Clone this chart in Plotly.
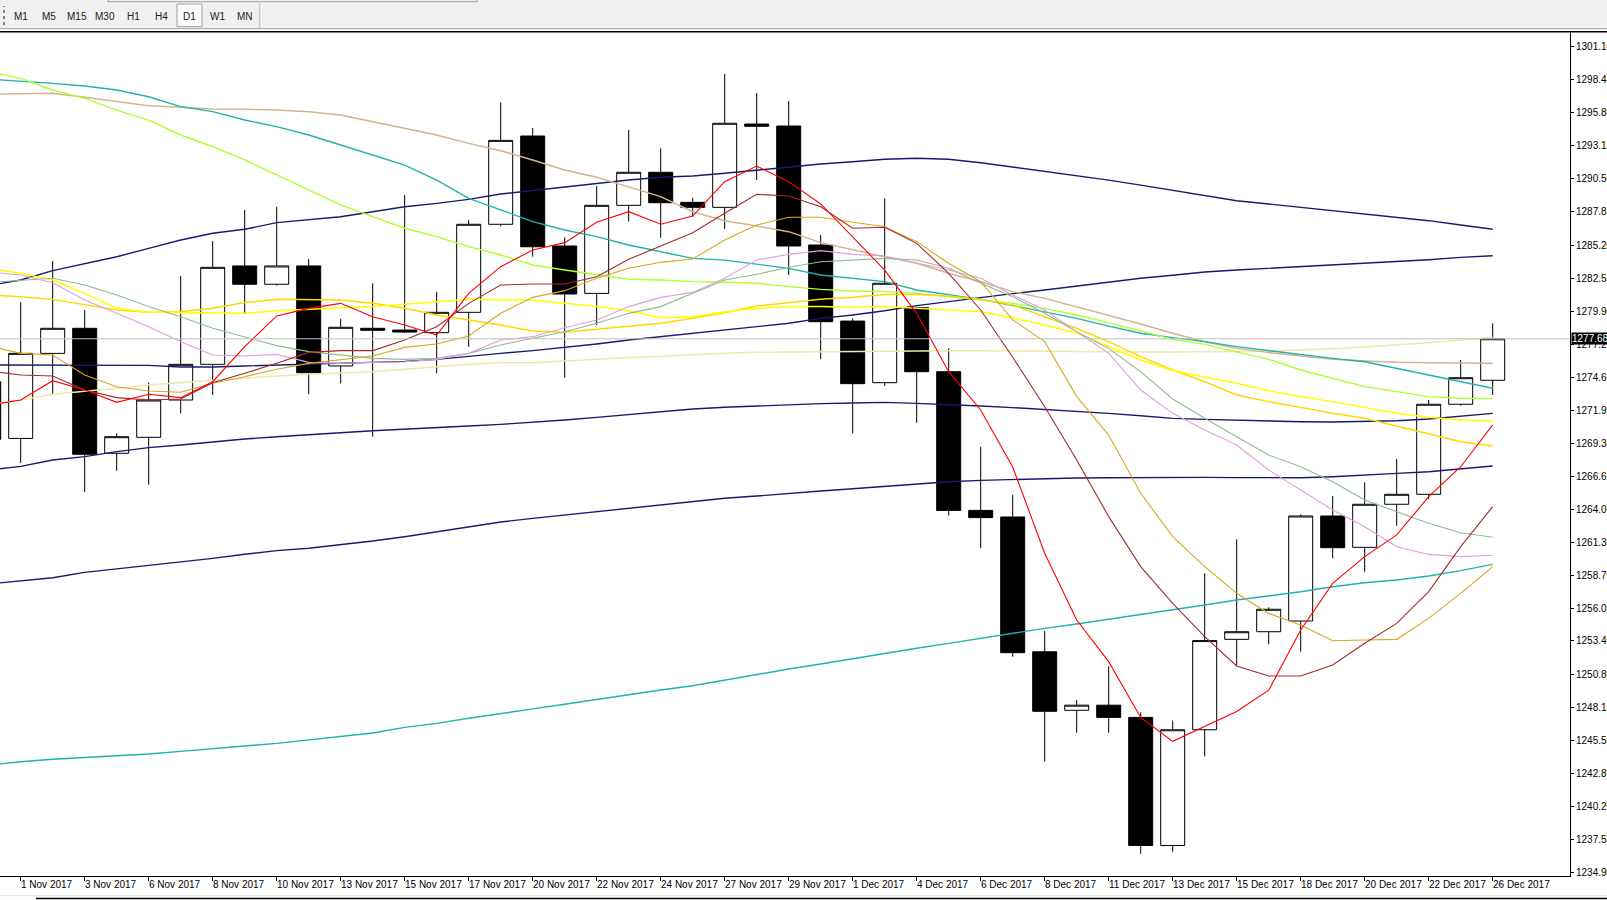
import plotly.graph_objects as go

# D1 bars, index 0 = 1 Nov 2017 ... 46 = 26 Dec 2017 (broker has Sunday bars), -1 = 31 Oct
bars = list(range(-1, 47))

opens = [1274.24, 1269.69, 1276.51, 1278.52, 1268.50, 1269.78, 1272.77, 1275.63, 1283.52, 1282.05,
         1283.52, 1275.50, 1278.52, 1278.38, 1278.17, 1279.80, 1286.86, 1293.94, 1285.12, 1281.32,
         1288.38, 1291.03, 1288.62, 1288.22, 1294.90, 1294.74, 1285.20, 1279.10, 1274.16, 1280.17,
         1275.04, 1263.92, 1263.39, 1252.58, 1247.89, 1248.30, 1247.32, 1237.05, 1246.33, 1253.58,
         1254.19, 1255.05, 1263.47, 1260.96, 1264.41, 1265.21, 1272.43, 1274.35]
highs = [1275.10, 1280.62, 1283.92, 1279.99, 1270.10, 1274.16, 1282.71, 1285.52, 1288.01, 1288.25,
         1284.08, 1279.27, 1282.13, 1289.21, 1281.45, 1287.20, 1296.64, 1294.58, 1285.82, 1289.93,
         1294.42, 1292.95, 1288.99, 1298.91, 1297.39, 1296.75, 1286.00, 1279.32, 1288.94, 1280.25,
         1276.92, 1269.01, 1265.15, 1254.25, 1248.71, 1251.43, 1247.73, 1247.07, 1258.87, 1261.60,
         1256.15, 1263.60, 1265.07, 1266.17, 1268.04, 1272.77, 1275.98, 1278.92]
lows = [1268.60, 1267.71, 1273.23, 1265.40, 1267.10, 1265.97, 1271.70, 1273.17, 1279.72, 1281.95,
        1273.23, 1274.11, 1269.83, 1278.15, 1274.91, 1277.04, 1286.70, 1284.26, 1274.56, 1278.78,
        1287.07, 1285.78, 1287.47, 1286.48, 1290.41, 1282.79, 1276.06, 1270.10, 1273.89, 1270.95,
        1263.51, 1260.88, 1252.19, 1243.78, 1246.08, 1246.08, 1236.39, 1236.55, 1244.19, 1251.52,
        1253.18, 1252.59, 1260.08, 1259.00, 1262.69, 1264.81, 1272.31, 1273.17]
closes = [1269.62, 1276.51, 1278.52, 1268.42, 1269.83, 1272.77, 1275.63, 1283.41, 1282.05, 1283.52,
          1274.96, 1278.60, 1278.36, 1278.22, 1279.80, 1286.86, 1293.59, 1285.06, 1281.27, 1288.38,
          1291.03, 1288.59, 1288.22, 1294.96, 1294.72, 1285.12, 1279.05, 1274.08, 1282.13, 1275.04,
          1263.92, 1263.34, 1252.51, 1247.81, 1248.30, 1247.32, 1237.05, 1246.33, 1253.48, 1254.19,
          1255.99, 1263.47, 1260.93, 1264.41, 1265.21, 1272.43, 1274.56, 1277.68]

# moving averages
ma_red = [1272.35, 1272.77, 1274.32, 1273.57, 1272.58, 1273.23, 1272.96, 1274.24, 1277.05, 1279.51,
          1280.12, 1280.52, 1279.45, 1278.78, 1277.98, 1281.32, 1283.46, 1284.80, 1285.39, 1287.02,
          1287.87, 1286.86, 1287.52, 1290.28, 1291.53, 1290.28, 1288.49, 1285.87, 1283.19, 1279.72,
          1275.04, 1271.97, 1267.40, 1260.48, 1255.13, 1251.79, 1247.32, 1245.40, 1246.60, 1247.80,
          1249.50, 1254.33, 1258.07, 1260.21, 1261.95, 1265.02, 1267.42, 1270.77]
ma_brown = [1275.10, 1274.78, 1274.69, 1273.57, 1272.96, 1272.77, 1272.85, 1274.16, 1274.91, 1275.71,
            1276.59, 1276.73, 1276.73, 1277.58, 1278.65, 1280.52, 1281.99, 1282.07, 1282.07, 1282.66,
            1284.05, 1285.12, 1286.19, 1287.74, 1289.26, 1289.13, 1288.27, 1286.54, 1286.62, 1285.33,
            1282.93, 1279.99, 1276.20, 1272.23, 1267.96, 1263.42, 1259.41, 1256.47, 1253.79, 1251.44,
            1250.64, 1250.64, 1251.52, 1253.26, 1254.86, 1257.40, 1261.01, 1264.22]
ma_goldenrod = [1277.10, 1276.51, 1276.38, 1274.78, 1273.84, 1273.49, 1273.39, 1274.11, 1274.64, 1275.23,
                1275.71, 1275.98, 1276.30, 1276.99, 1277.26, 1277.90, 1279.72, 1281.00, 1281.54, 1282.53,
                1283.33, 1283.81, 1284.08, 1285.60, 1286.80, 1287.42, 1287.42, 1287.02, 1286.67, 1285.47,
                1283.73, 1282.26, 1279.20, 1277.45, 1273.04, 1269.96, 1265.29, 1261.81, 1259.41, 1257.27,
                1255.66, 1254.73, 1253.47, 1253.53, 1253.58, 1255.26, 1257.27, 1259.41]
ma_plum = [1283.05, 1282.79, 1282.18, 1280.79, 1279.72, 1278.65, 1277.45, 1276.38, 1276.30, 1276.43,
           1275.79, 1275.71, 1275.79, 1275.84, 1276.03, 1276.51, 1277.58, 1277.85, 1278.57, 1279.19,
           1280.26, 1281.00, 1281.40, 1282.53, 1284.00, 1284.45, 1284.75, 1284.45, 1284.32, 1283.73,
           1283.19, 1282.53, 1281.19, 1279.99, 1278.25, 1276.51, 1273.57, 1271.70, 1270.37, 1269.16,
           1267.16, 1265.55, 1263.95, 1262.61, 1261.01, 1260.39, 1260.21, 1260.32]
ma_seagreen = [1282.20, 1282.34, 1282.53, 1281.99, 1281.19, 1280.26, 1279.45, 1278.52, 1277.85, 1277.13,
               1276.65, 1276.38, 1276.11, 1276.03, 1276.11, 1276.51, 1277.18, 1277.72, 1278.25, 1278.92,
               1279.72, 1280.26, 1281.32, 1282.39, 1282.85, 1283.41, 1283.86, 1284.00, 1284.13, 1284.00,
               1283.33, 1282.13, 1281.06, 1279.72, 1278.25, 1276.91, 1275.04, 1272.85, 1271.30, 1269.83,
               1268.36, 1267.42, 1266.22, 1264.75, 1263.82, 1262.88, 1262.13, 1261.76]
ma_yellow = [1283.30, 1282.93, 1282.39, 1281.32, 1280.12, 1279.80, 1279.77, 1279.72, 1279.72, 1279.93,
             1280.04, 1280.15, 1280.26, 1280.44, 1280.66, 1280.84, 1280.79, 1280.79, 1280.52, 1280.26,
             1279.93, 1279.37, 1279.45, 1279.85, 1280.12, 1280.26, 1280.26, 1280.20, 1280.26, 1280.12,
             1279.99, 1279.85, 1279.37, 1278.78, 1278.12, 1277.05, 1275.98, 1275.12, 1274.64, 1274.11,
             1273.52, 1273.04, 1272.64, 1272.18, 1271.70, 1271.38, 1271.17, 1271.09]
ma_gold = [1281.20, 1281.06, 1280.84, 1280.39, 1279.99, 1279.80, 1279.85, 1280.12, 1280.58, 1280.84,
           1280.84, 1280.79, 1280.52, 1280.12, 1279.59, 1279.19, 1278.78, 1278.30, 1278.20, 1278.44,
           1278.65, 1278.92, 1279.32, 1279.77, 1280.31, 1280.58, 1280.84, 1281.00, 1281.24, 1281.24,
           1281.11, 1280.84, 1280.39, 1279.45, 1278.52, 1277.45, 1276.25, 1275.18, 1274.24, 1273.17,
           1272.64, 1272.18, 1271.70, 1271.30, 1270.69, 1270.10, 1269.43, 1269.08]
ma_greenyellow = [1299.10, 1298.56, 1297.63, 1296.96, 1296.02, 1295.22, 1294.02, 1293.08, 1292.02, 1290.81,
                  1289.61, 1288.41, 1287.47, 1286.54, 1285.87, 1285.07, 1284.40, 1283.60, 1283.19, 1282.79,
                  1282.45, 1282.39, 1282.26, 1282.21, 1282.13, 1281.86, 1281.64, 1281.51, 1281.46, 1281.32,
                  1281.06, 1280.84, 1280.52, 1280.12, 1279.59, 1278.97, 1278.30, 1277.63, 1277.23, 1276.65,
                  1276.03, 1275.18, 1274.51, 1273.84, 1273.44, 1273.04, 1272.91, 1272.88]
ma_teal = [1298.50, 1298.35, 1298.16, 1297.95, 1297.63, 1297.09, 1296.29, 1295.89, 1295.22, 1294.69,
           1294.02, 1293.22, 1292.42, 1291.61, 1290.41, 1288.94, 1288.01, 1287.07, 1286.40, 1285.87,
           1285.20, 1284.66, 1284.13, 1283.99, 1283.68, 1283.33, 1282.79, 1282.53, 1282.26, 1281.59,
           1281.19, 1280.84, 1280.35, 1279.85, 1279.32, 1278.70, 1278.12, 1277.77, 1277.45, 1277.05,
           1276.73, 1276.46, 1276.11, 1275.84, 1275.31, 1274.77, 1274.24, 1273.71]
ma_tan = [1297.30, 1297.36, 1297.36, 1297.04, 1296.69, 1296.37, 1296.24, 1296.10, 1296.08, 1296.02,
          1295.89, 1295.62, 1295.09, 1294.55, 1294.02, 1293.35, 1292.76, 1292.02, 1291.21, 1290.63,
          1289.88, 1289.08, 1287.87, 1287.15, 1286.72, 1286.27, 1285.39, 1284.80, 1284.26, 1283.73,
          1282.93, 1282.26, 1281.46, 1280.92, 1280.25, 1279.59, 1278.86, 1278.12, 1277.45, 1276.91,
          1276.57, 1276.30, 1276.03, 1275.90, 1275.79, 1275.76, 1275.74, 1275.71]
ma_pale = [1272.40, 1272.77, 1273.23, 1273.44, 1273.71, 1273.97, 1274.16, 1274.29, 1274.51, 1274.70,
           1274.83, 1274.91, 1275.04, 1275.23, 1275.44, 1275.63, 1275.76, 1275.76, 1275.90, 1276.06,
           1276.17, 1276.27, 1276.41, 1276.51, 1276.59, 1276.62, 1276.62, 1276.62, 1276.68, 1276.70,
           1276.73, 1276.73, 1276.70, 1276.65, 1276.63, 1276.62, 1276.62, 1276.62, 1276.62, 1276.65,
           1276.70, 1276.78, 1276.89, 1277.02, 1277.18, 1277.37, 1277.58, 1277.80]
ma_navy1 = [1281.95, 1282.39, 1283.14, 1283.73, 1284.26, 1284.93, 1285.60, 1286.14, 1286.46, 1286.99,
            1287.20, 1287.47, 1287.87, 1288.27, 1288.54, 1288.86, 1289.29, 1289.56, 1289.88, 1290.14,
            1290.41, 1290.63, 1290.73, 1290.95, 1291.21, 1291.48, 1291.69, 1291.88, 1292.07, 1292.15,
            1292.07, 1291.80, 1291.45, 1291.10, 1290.80, 1290.40, 1290.00, 1289.60, 1289.20, 1288.75,
            1288.49, 1288.22, 1287.95, 1287.68, 1287.42, 1287.15, 1286.80, 1286.46]
ma_navy2 = [1275.58, 1275.58, 1275.58, 1275.58, 1275.58, 1275.55, 1275.42, 1275.42, 1275.50, 1275.58,
            1275.63, 1275.71, 1275.76, 1275.87, 1276.03, 1276.30, 1276.51, 1276.73, 1276.99, 1277.26,
            1277.58, 1277.85, 1278.12, 1278.38, 1278.65, 1278.92, 1279.32, 1279.59, 1279.93, 1280.34,
            1280.66, 1281.00, 1281.30, 1281.59, 1281.91, 1282.26, 1282.53, 1282.77, 1283.03, 1283.19,
            1283.33, 1283.46, 1283.60, 1283.73, 1283.89, 1284.02, 1284.21, 1284.34]
ma_navy3 = [1267.15, 1267.45, 1267.96, 1268.23, 1268.63, 1268.95, 1269.16, 1269.43, 1269.64, 1269.83,
            1270.02, 1270.15, 1270.31, 1270.42, 1270.55, 1270.69, 1270.82, 1270.98, 1271.17, 1271.38,
            1271.62, 1271.84, 1272.05, 1272.19, 1272.29, 1272.40, 1272.48, 1272.53, 1272.58, 1272.50,
            1272.42, 1272.29, 1272.16, 1272.02, 1271.83, 1271.70, 1271.51, 1271.30, 1271.22, 1271.14,
            1271.09, 1271.03, 1271.01, 1271.03, 1271.11, 1271.25, 1271.49, 1271.70]
ma_navy4 = [1258.02, 1258.28, 1258.52, 1258.95, 1259.22, 1259.49, 1259.75, 1260.07, 1260.40, 1260.69,
            1260.88, 1261.14, 1261.46, 1261.81, 1262.21, 1262.61, 1262.99, 1263.28, 1263.55, 1263.84,
            1264.08, 1264.40, 1264.67, 1264.89, 1265.07, 1265.29, 1265.47, 1265.66, 1265.85, 1266.06,
            1266.22, 1266.33, 1266.40, 1266.46, 1266.52, 1266.54, 1266.56, 1266.57, 1266.57, 1266.55,
            1266.52, 1266.54, 1266.62, 1266.73, 1266.89, 1267.02, 1267.26, 1267.48]
ma_teal_low = [1243.50, 1243.77, 1243.96, 1244.09, 1244.25, 1244.39, 1244.60, 1244.79, 1245.03, 1245.24,
               1245.51, 1245.77, 1246.07, 1246.52, 1246.84, 1247.25, 1247.65, 1248.00, 1248.37, 1248.77,
               1249.12, 1249.52, 1249.86, 1250.32, 1250.77, 1251.20, 1251.60, 1252.03, 1252.46, 1252.86,
               1253.26, 1253.66, 1254.11, 1254.46, 1254.81, 1255.18, 1255.58, 1255.93, 1256.33, 1256.73,
               1257.05, 1257.40, 1257.80, 1258.12, 1258.34, 1258.66, 1259.09, 1259.59]

price_ticks = [1301.10, 1298.45, 1295.80, 1293.15, 1290.50, 1287.85, 1285.20, 1282.55, 1279.90,
               1277.25, 1274.60, 1271.95, 1269.30, 1266.65, 1264.00, 1261.35, 1258.70, 1256.05,
               1253.45, 1250.80, 1248.15, 1245.50, 1242.85, 1240.20, 1237.55, 1234.90]
date_bars = [0, 2, 4, 6, 8, 10, 12, 14, 16, 18, 20, 22, 24, 26, 28, 30, 32, 34, 36, 38, 40, 42, 44, 46]
date_labels = ["1 Nov 2017", "3 Nov 2017", "6 Nov 2017", "8 Nov 2017", "10 Nov 2017", "13 Nov 2017",
               "15 Nov 2017", "17 Nov 2017", "20 Nov 2017", "22 Nov 2017", "24 Nov 2017", "27 Nov 2017",
               "29 Nov 2017", "1 Dec 2017", "4 Dec 2017", "6 Dec 2017", "8 Dec 2017", "11 Dec 2017",
               "13 Dec 2017", "15 Dec 2017", "18 Dec 2017", "20 Dec 2017", "22 Dec 2017", "26 Dec 2017"]
last_price = 1277.68
timeframes = ["M1", "M5", "M15", "M30", "H1", "H4", "D1", "W1", "MN"]

fig = go.Figure()

fig.add_trace(go.Candlestick(
    x=bars, open=opens, high=highs, low=lows, close=closes,
    increasing=dict(line=dict(color="black", width=1), fillcolor="white"),
    decreasing=dict(line=dict(color="black", width=1), fillcolor="black"),
    whiskerwidth=0, showlegend=False, hoverinfo="skip",
))

ma_lines = [
    (ma_teal_low, "#20B2AA", 1.4),
    (ma_navy4, "#191970", 1.4),
    (ma_navy3, "#191970", 1.4),
    (ma_navy2, "#191970", 1.4),
    (ma_navy1, "#191970", 1.4),
    (ma_pale, "#EEE8AA", 1.5),
    (ma_tan, "#D2B48C", 1.5),
    (ma_teal, "#20B2AA", 1.4),
    (ma_greenyellow, "#ADFF2F", 1.4),
    (ma_gold, "#FFD700", 1.5),
    (ma_yellow, "#FFFF00", 1.5),
    (ma_seagreen, "#8FBC8F", 1.1),
    (ma_plum, "#DDA0DD", 1.1),
    (ma_goldenrod, "#DAA520", 1.1),
    (ma_brown, "#A52A2A", 1.1),
    (ma_red, "#FF0000", 1.1),
]
for vals, color, width in ma_lines:
    fig.add_trace(go.Scatter(x=bars, y=vals, mode="lines", line=dict(color=color, width=width),
                             showlegend=False, hoverinfo="skip"))

axis_font = dict(family="Liberation Sans, Arial, sans-serif", size=10, color="black")

fig.update_layout(
    template="none",
    width=1607, height=900,
    margin=dict(l=0, r=37, t=32, b=24, pad=0),
    paper_bgcolor="white", plot_bgcolor="white",
    font=axis_font,
    showlegend=False, hovermode=False,
    boxgap=0.25, boxgroupgap=0,
    xaxis=dict(range=[-0.647, 48.416], tickmode="array", tickvals=date_bars, ticks="outside",
               ticklen=4, tickcolor="black", showticklabels=False, showgrid=False, zeroline=False,
               showline=True, linecolor="black", linewidth=1, rangeslider=dict(visible=False),
               automargin=False, fixedrange=True),
    yaxis=dict(side="right", range=[1234.603, 1302.279], tickmode="array", tickvals=price_ticks,
               ticktext=[f"{v:.2f}" for v in price_ticks], ticks="outside", ticklen=3,
               tickcolor="black", tickfont=axis_font, showgrid=False, zeroline=False,
               showline=True, linecolor="black", linewidth=1, automargin=False, fixedrange=True),
)

# bid line and price tag
fig.add_shape(type="line", xref="paper", yref="y", x0=0, x1=1, y0=last_price, y1=last_price,
              line=dict(color="#C0C0C0", width=1), layer="above")
fig.add_annotation(x=1, xref="paper", y=last_price, yref="y", text=f"{last_price:.2f}",
                   xanchor="left", yanchor="middle", xshift=1, showarrow=False, bgcolor="black",
                   borderpad=0, font=dict(family=axis_font["family"], size=10, color="white"))

# date labels, left-aligned on their ticks as in the terminal
for b, lab in zip(date_bars, date_labels):
    fig.add_annotation(x=b, xref="x", y=0, yref="paper", text=lab, showarrow=False,
                       xanchor="left", yanchor="top", xshift=-2, yshift=-1, font=axis_font)

# terminal chrome: timeframe toolbar on top, frame lines at the bottom
def px_shape(x0, x1, y0, y1, yanchor, **kw):
    fig.add_shape(xref="paper", yref="paper", xsizemode="pixel", ysizemode="pixel",
                  xanchor=0, yanchor=yanchor, x0=x0, x1=x1, y0=y0, y1=y1, **kw)

px_shape(0, 1607, 3, 32, 1, type="rect", fillcolor="#F0F0F0", line=dict(width=0), layer="above")
px_shape(0, 1607, 3.3, 3.3, 1, type="line", line=dict(color="#A0A0A0", width=1))
px_shape(0, 1607, 0.3, 0.3, 1, type="line", line=dict(color="black", width=1.5))
px_shape(108, 477, 30.3, 30.3, 1, type="line", line=dict(color="#A0A0A0", width=1))
px_shape(108, 108, 30.3, 32, 1, type="line", line=dict(color="#A0A0A0", width=1))
px_shape(477, 477, 30.3, 32, 1, type="line", line=dict(color="#A0A0A0", width=1))
px_shape(4, 4, 7, 26, 1, type="line", line=dict(color="#808080", width=2, dash="dot"))
px_shape(177, 202, 5.3, 28, 1, type="rect", fillcolor="#FAFAFA", line=dict(color="#A0A0A0", width=1))
px_shape(260, 260, 4, 29, 1, type="line", line=dict(color="#A0A0A0", width=1))
px_shape(261, 261, 4, 29, 1, type="line", line=dict(color="white", width=1))
px_shape(0, 1607, -19.7, -19.7, 0, type="line", line=dict(color="#E3E3E3", width=1))
px_shape(36, 1607, -22.5, -22.5, 0, type="line", line=dict(color="black", width=1.5))

for k, tf in enumerate(timeframes):
    fig.add_annotation(x=0, xref="paper", y=1, yref="paper", text=tf, showarrow=False,
                       xanchor="center", yanchor="middle", xshift=21 + 28 * k, yshift=16,
                       font=dict(family=axis_font["family"], size=10, color="#202020"))

fig.write_html("out.html", config={"displayModeBar": False},
               post_script="document.body.style.margin='0';document.body.style.overflow='hidden';")
